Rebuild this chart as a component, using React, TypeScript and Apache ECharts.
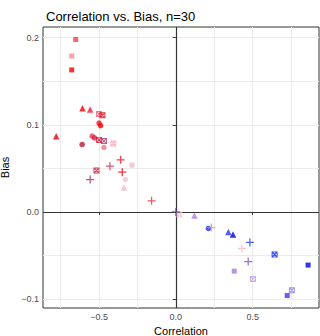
import React, { useEffect, useRef } from "react";
import * as echarts from "echarts";

const titleText = "Correlation vs. Bias, n=30";
const xTicks = [-0.5, 0, 0.5];
const yTicks = [-0.1, 0, 0.1, 0.2];
const xMinor = [-0.75, -0.25, 0.25, 0.75];
const yMinor = [-0.05, 0.05, 0.15];

const correlation = [
  -0.652, -0.678, -0.678, -0.608, -0.558, -0.5, -0.478, -0.5, -0.49, -0.779,
  -0.545, -0.53, -0.5, -0.468, -0.407, -0.61, -0.468, -0.36, -0.286, -0.429,
  -0.517, -0.349, -0.329, -0.558, -0.338, -0.158, 0.0, 0.023, 0.121, 0.212,
  0.231, 0.342, 0.372, 0.482, 0.43, 0.643, 0.471, 0.861, 0.38, 0.502, 0.755, 0.725,
];
const bias = [
  0.198, 0.179, 0.163, 0.119, 0.1175, 0.1125, 0.111, 0.102, 0.099, 0.087,
  0.087, 0.085, 0.0827, 0.0815, 0.0785, 0.0774, 0.074, 0.0598, 0.0537, 0.0525,
  0.0476, 0.0456, 0.0372, 0.0372, 0.028, 0.0127, 0.0, -0.003, -0.004, -0.019,
  -0.018, -0.023, -0.026, -0.035, -0.042, -0.049, -0.057, -0.061, -0.068, -0.077, -0.09, -0.096,
];
const method = [
  "square", "square", "square", "triangle", "triangle", "boxed", "boxed", "circle", "circle", "triangle",
  "circle", "circle", "boxed", "boxed", "boxed", "circle", "circle", "plus", "square", "plus",
  "boxed", "plus", "circle", "plus", "triangle", "plus", "plus", "boxed", "triangle", "circle",
  "plus", "triangle", "triangle", "plus", "plus", "boxed", "plus", "square", "square", "boxed", "boxed", "square",
];
const pointColor = [
  "#f0404c", "#f08a96", "#ee0000", "#ee0000", "#f02030", "#f05068", "#e00010", "#f01020", "#ee0000", "#e00010",
  "#e04060", "#e02040", "#d01838", "#b03870", "#f4a0b0", "#c01838", "#f07888", "#f01020", "#f8b8c8", "#c83058",
  "#c01838", "#f00010", "#f8c0cc", "#a03060", "#f8b8c4", "#e03040", "#6040a0", "#f8c0cc", "#b080e0", "#1030f0",
  "#f08888", "#3030f0", "#0000e0", "#2040e8", "#f8b8c8", "#0020f0", "#8050d0", "#0000f0", "#a878d8", "#b898e0", "#8078e8", "#5030e0",
];

const symbols: Record<string, { symbol: string; size: number }> = {
  square: { symbol: "rect", size: 5 },
  triangle: { symbol: "triangle", size: 6.5 },
  circle: { symbol: "circle", size: 5.5 },
  boxed: {
    symbol:
      "path://M0,0H10V10H0Z M1.6,1.6V8.4H8.4V1.6Z M1.6,1.6H3L8.4,7V8.4H7L1.6,3Z M8.4,1.6V3L3,8.4H1.6V7L7,1.6Z",
    size: 6,
  },
  plus: { symbol: "path://M0,4.2H10V5.8H0Z M4.2,0H5.8V10H4.2Z", size: 8 },
};

const FONT = "'Liberation Sans', Arial, sans-serif";
const fmt = (v: number) => v.toFixed(1).replace("-", "\u2212");

export default function App() {
  const ref = useRef<HTMLDivElement>(null);
  useEffect(() => {
    if (!ref.current) return;
    const chart = echarts.init(ref.current, null, { renderer: "svg" });
    const shapeNames = Object.keys(symbols);
    const pointSeries = shapeNames.map((s) => ({
      type: "scatter",
      name: s,
      symbol: symbols[s].symbol,
      symbolSize: symbols[s].size,
      z: 5,
      data: correlation
        .map((x, i) => ({ i, x }))
        .filter((d) => method[d.i] === s)
        .map((d) => ({
          value: [d.x, bias[d.i]],
          itemStyle: { color: pointColor[d.i] },
        })),
    }));
    const axisCommon = {
      type: "value",
      axisLine: { show: false },
      axisTick: { show: true, length: 3, lineStyle: { color: "#333", width: 1 } },
      splitLine: { show: true, lineStyle: { color: "#ebebeb", width: 1 } },
      axisLabel: { color: "#4d4d4d", fontSize: 9, fontFamily: FONT, formatter: fmt, margin: 4 },
      nameLocation: "middle",
      nameTextStyle: { color: "#000", fontSize: 11, fontFamily: FONT },
    };
    chart.setOption({
      animation: false,
      title: {
        text: titleText,
        left: 41,
        top: 5,
        textStyle: { fontSize: 13, fontWeight: "normal", color: "#000", fontFamily: FONT },
      },
      grid: {
        left: 43,
        right: 1,
        top: 27,
        bottom: 28,
        outerBoundsMode: "none",
        containLabel: false,
        show: true,
        borderColor: "#333",
        borderWidth: 1,
        backgroundColor: "transparent",
      },
      xAxis: {
        ...axisCommon,
        min: -0.865,
        max: 0.932,
        name: "Correlation",
        nameGap: 16,
        axisTick: { ...axisCommon.axisTick, customValues: xTicks },
        axisLabel: { ...axisCommon.axisLabel, customValues: xTicks },
      },
      yAxis: {
        ...axisCommon,
        min: -0.1103,
        max: 0.2123,
        name: "Bias",
        nameGap: 26,
        nameRotate: 90,
        axisTick: { ...axisCommon.axisTick, customValues: yTicks },
        axisLabel: { ...axisCommon.axisLabel, customValues: yTicks },
      },
      series: [
        {
          type: "scatter",
          data: [],
          z: 1,
          markLine: {
            silent: true,
            symbol: "none",
            label: { show: false },
            lineStyle: { color: "#ebebeb", width: 1, type: "solid" },
            data: [
              ...xMinor.map((v) => ({ xAxis: v })),
              ...yMinor.map((v) => ({ yAxis: v })),
            ],
          },
        },
        {
          type: "scatter",
          data: [],
          z: 2,
          markLine: {
            silent: true,
            symbol: "none",
            label: { show: false },
            lineStyle: { color: "#333", width: 1.2, type: "solid" },
            data: [{ xAxis: 0 }, { yAxis: 0 }],
          },
        },
        ...pointSeries,
      ],
    });
    return () => chart.dispose();
  }, []);
  return (
    <div
      ref={ref}
      style={{ position: "fixed", left: 0, top: 0, width: 320, height: 336, background: "#fff" }}
    />
  );
}
